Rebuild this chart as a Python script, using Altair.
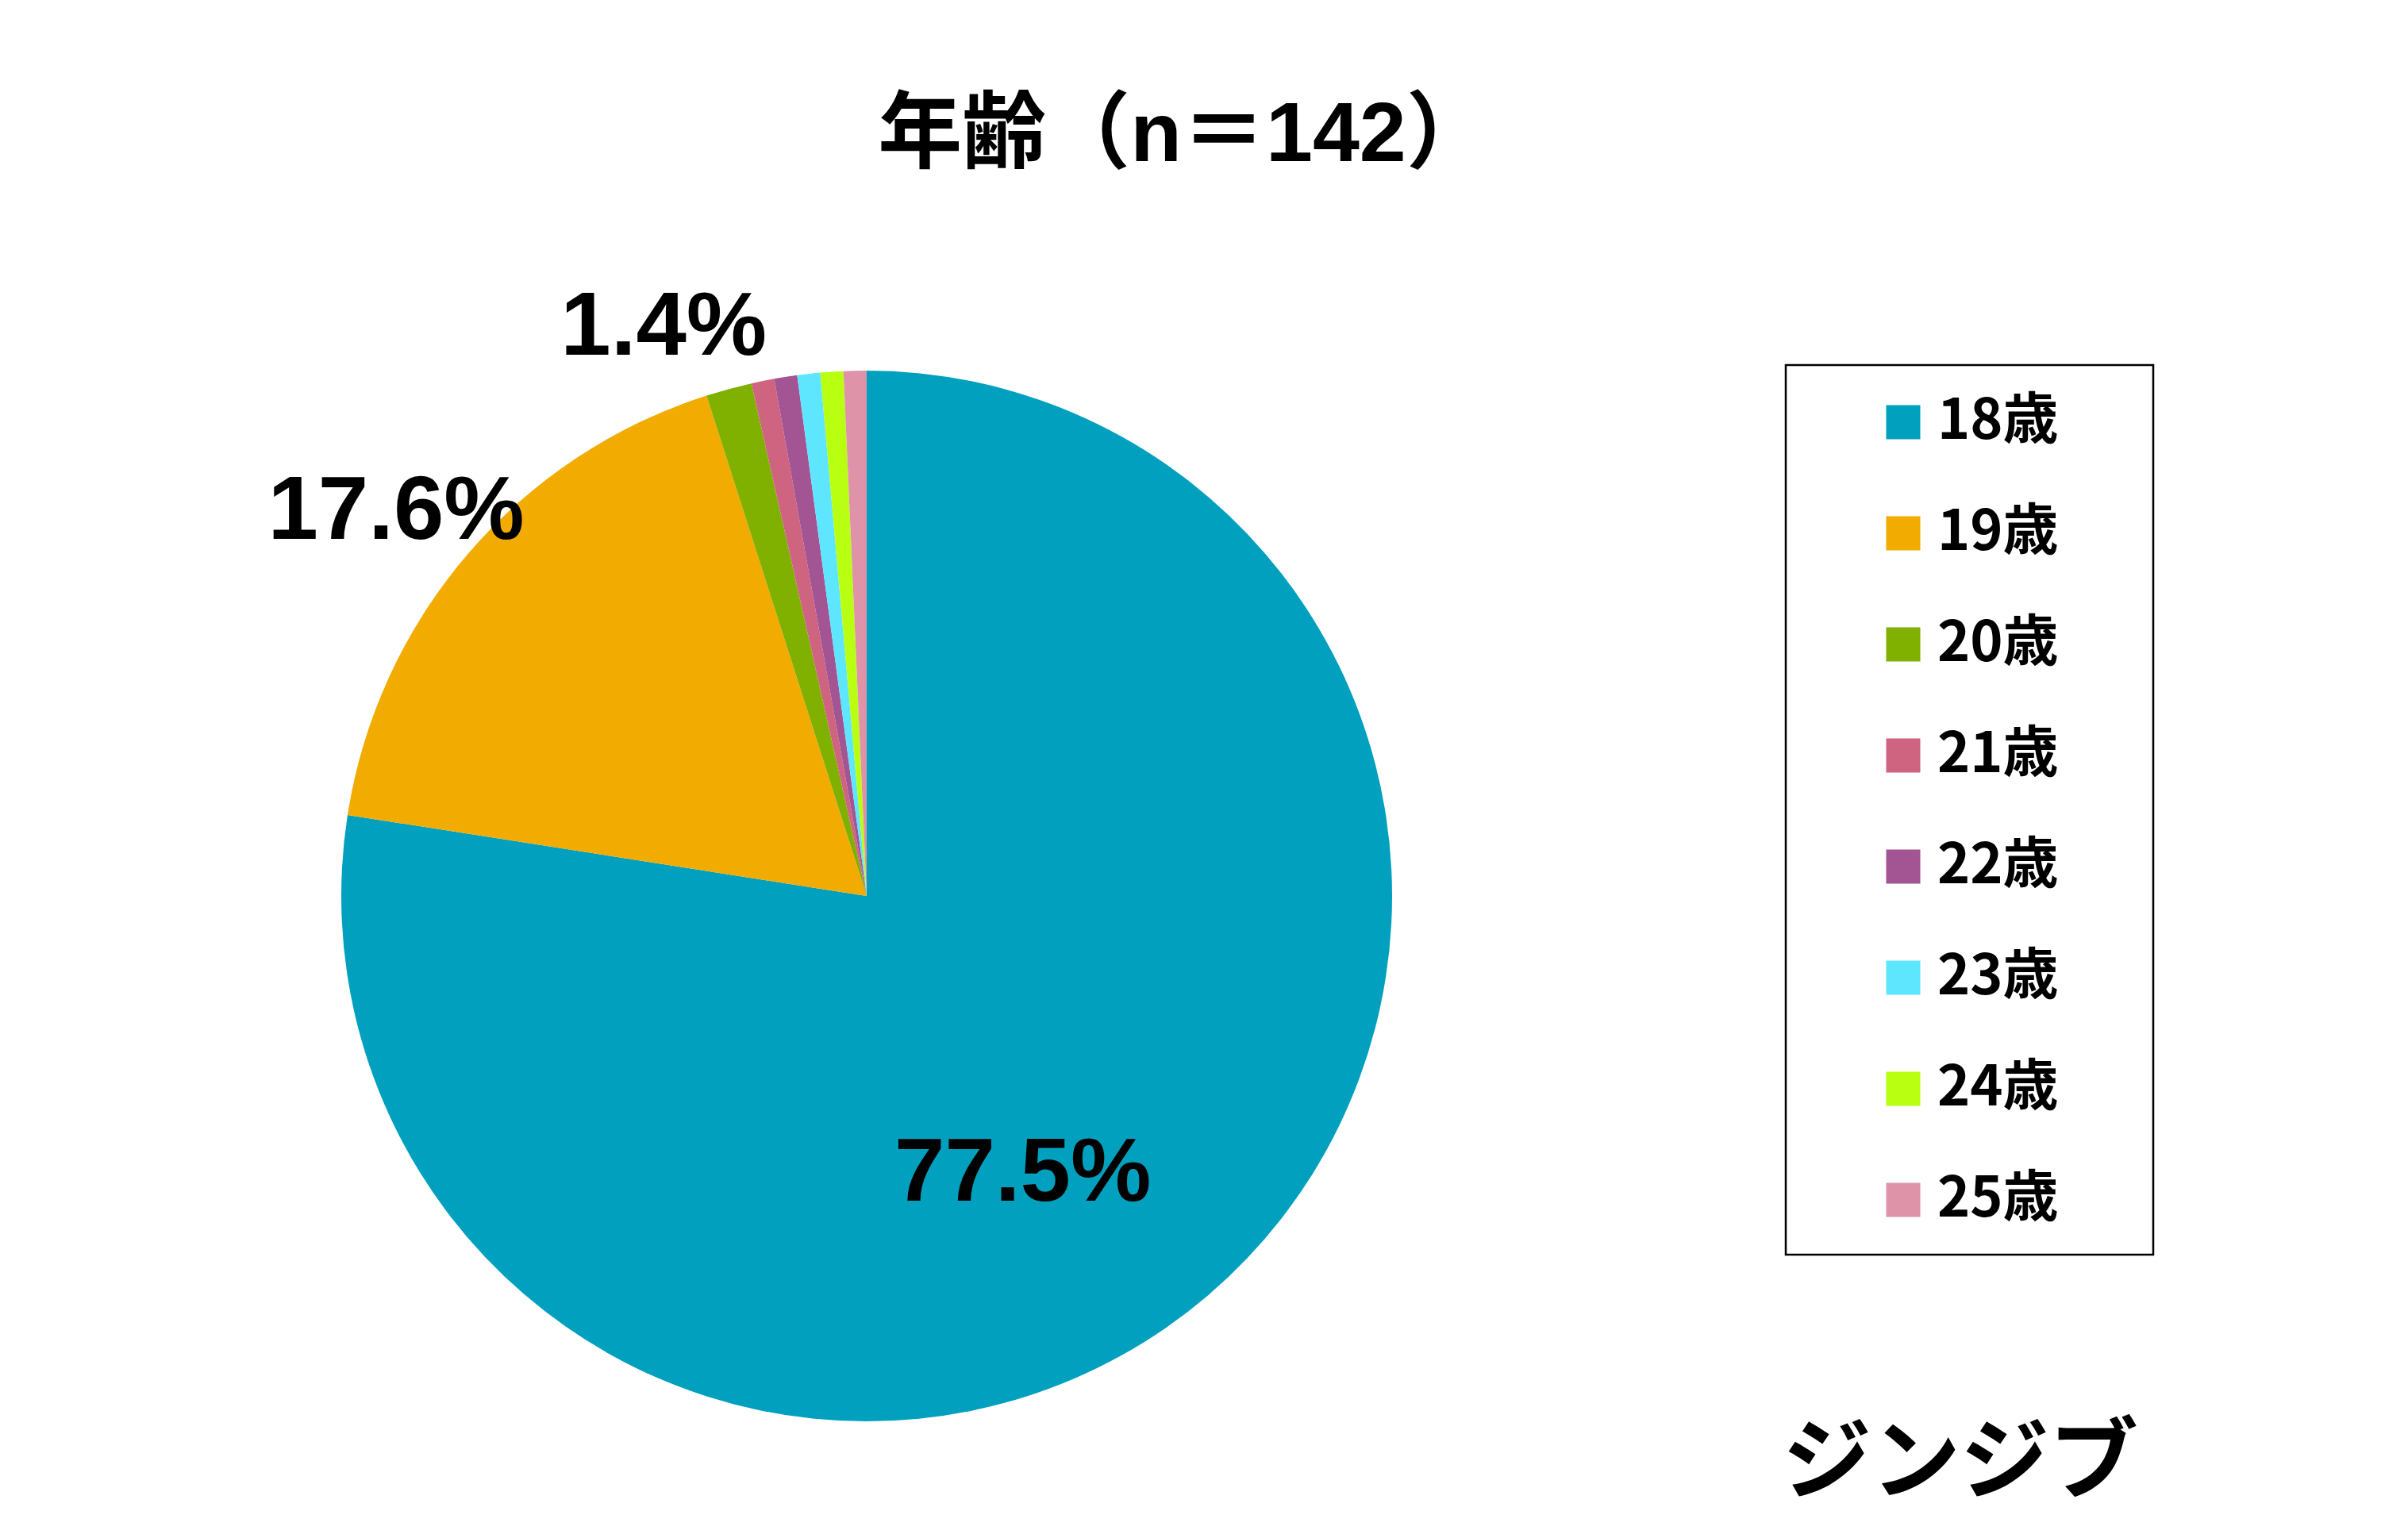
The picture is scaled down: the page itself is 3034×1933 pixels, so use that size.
import altair as alt
import pandas as pd

# ---- data ----
ages = ["18歳", "19歳", "20歳", "21歳", "22歳", "23歳", "24歳", "25歳"]
counts = [110, 25, 2, 1, 1, 1, 1, 1]
colors = ["#00A0BE", "#F2AB00", "#80B000", "#CF6480", "#A25592", "#5FE6FF", "#B8FF12", "#DE93A9"]
title_text = ["年齢（n＝142）"]
logo_text = ["ジンジブ"]
labelled = ["18歳", "19歳", "20歳"]

df = pd.DataFrame({"age": ages, "count": counts, "idx": list(range(len(ages)))})

W, H = 3018, 1917
CX, CY = 1084, 1121
R = 662

NUM_FONT = "Liberation Sans Narrow, Liberation Sans, Noto Sans CJK JP"
CJK_FONT = "Noto Sans CJK JP"

base = alt.Chart(df).encode(
    theta=alt.Theta("count:Q", stack=True),
    order=alt.Order("idx:Q", sort="ascending"),
    x=alt.value(CX),
    y=alt.value(CY),
)

pie = base.mark_arc(outerRadius=R, innerRadius=0).encode(
    color=alt.Color(
        "age:N",
        sort=ages,
        scale=alt.Scale(domain=ages, range=colors),
        legend=alt.Legend(
            title=None,
            orient="none",
            legendX=2355,
            legendY=489,
            symbolType="square",
            symbolSize=1850,
            symbolStrokeWidth=0,
            labelFont=CJK_FONT,
            labelFontWeight="bold",
            labelFontSize=70,
            labelColor="black",
            labelOffset=8,
            rowPadding=70,
            padding=0,
        ),
    )
)

def label_layer(age, radius, dx, dy):
    return (
        base.transform_joinaggregate(total="sum(count)")
        .transform_calculate(
            label=f"datum.age == '{age}' ? format(datum.count / datum.total, '.1%') : ''"
        )
        .mark_text(
            radius=radius,
            dx=dx,
            dy=dy,
            font=NUM_FONT,
            fontWeight="bold",
            fontSize=114,
            color="black",
            align="center",
            baseline="middle",
        )
        .encode(text="label:N")
    )

lab18 = label_layer(labelled[0], 430, -83, 23)
lab19 = label_layer(labelled[1], 770, -8, 17)
lab20 = label_layer(labelled[2], 765, -55, 22)

title = (
    alt.Chart(pd.DataFrame({"t": title_text}))
    .mark_text(font=NUM_FONT, fontWeight="bold", fontSize=106, color="black",
               align="center", baseline="middle")
    .encode(text="t:N", x=alt.value(1484), y=alt.value(163))
)

logo = (
    alt.Chart(pd.DataFrame({"t": logo_text}))
    .mark_text(font=CJK_FONT, fontWeight="bold", fontSize=112, color="black",
               align="center", baseline="middle")
    .encode(text="t:N", x=alt.value(2462), y=alt.value(1838))
)

box = (
    alt.Chart(pd.DataFrame({"b": [1]}))
    .mark_rect(fill=None, stroke="black", strokeWidth=2.5)
    .encode(x=alt.value(2242), x2=alt.value(2705), y=alt.value(452), y2=alt.value(1573))
)

chart = (
    alt.layer(pie, lab18, lab19, lab20, title, logo, box)
    .properties(width=W, height=H, autosize="none", padding=0, background="white")
    .configure_view(stroke=None)
)

chart.save("out.html", embed_options={"renderer": "svg", "actions": False})
